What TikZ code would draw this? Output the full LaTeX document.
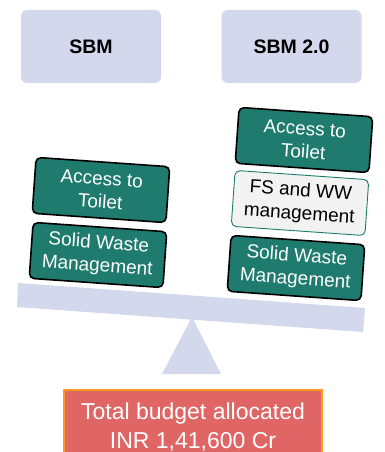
\documentclass[tikz,border=0pt]{standalone}
\usepackage{fontspec}
\setmainfont{Liberation Sans}
\usepackage{xcolor}
\usetikzlibrary{positioning,calc}
\definecolor{lavender}{HTML}{D3D8EC}
\definecolor{teal_green}{HTML}{1E7B6E}
\definecolor{light_grey}{HTML}{F2F2F2}
\definecolor{budget_red}{HTML}{E06666}
\definecolor{budget_orange}{HTML}{FF9A1F}

\begin{document}
\begin{tikzpicture}[x=1pt, y=-1pt,
    title_box/.style={fill=lavender, rounded corners=6pt, minimum width=140pt, minimum height=73pt, inner sep=0pt, font=\fontsize{19.5}{22}\selectfont\bfseries},
    item_box/.style={fill=teal_green, draw=black, line width=1.6pt, rounded corners=5pt, minimum width=134pt, minimum height=56pt, inner sep=0pt, align=center, text=white, rotate=-4, font=\fontsize{19}{23}\selectfont},
    new_box/.style={item_box, fill=light_grey, draw=teal_green, line width=0.9pt, text=black}]
      \useasboundingbox (0, 0) rectangle (385, 452);
      \node (sbm_title) [title_box] at (91, 46.5) {SBM};
      \node (sbm2_title) [title_box] at (291.5, 46.5) {SBM 2.0};
      \node (old_toilet) [item_box] at (101, 190) {Access to\\Toilet};
      \node (old_waste) [item_box] at (98, 255) {Solid Waste\\Management};
      \node (new_toilet) [item_box] at (304, 140) {Access to\\Toilet};
      \node (new_fsww) [new_box] at (300, 203) {FS and WW\\management};
      \node (new_waste) [item_box] at (296, 268) {Solid Waste\\Management};
      \fill [lavender] (18, 283) -- (365, 308) -- (363, 332) -- (17, 307) -- cycle;
      \fill [lavender] (192, 317) -- (221, 374) -- (162, 374) -- cycle;
      \begin{scope}
        \clip (0, 0) rectangle (385, 452);
        \node (budget) [fill=budget_red, draw=budget_orange, line width=1.5pt, minimum width=258pt, minimum height=74pt, inner sep=0pt, align=center, text=white, font=\fontsize{23}{29}\selectfont] at (193, 427) {Total budget allocated\\INR 1,41,600 Cr};
      \end{scope}
    \end{tikzpicture}
\end{document}
